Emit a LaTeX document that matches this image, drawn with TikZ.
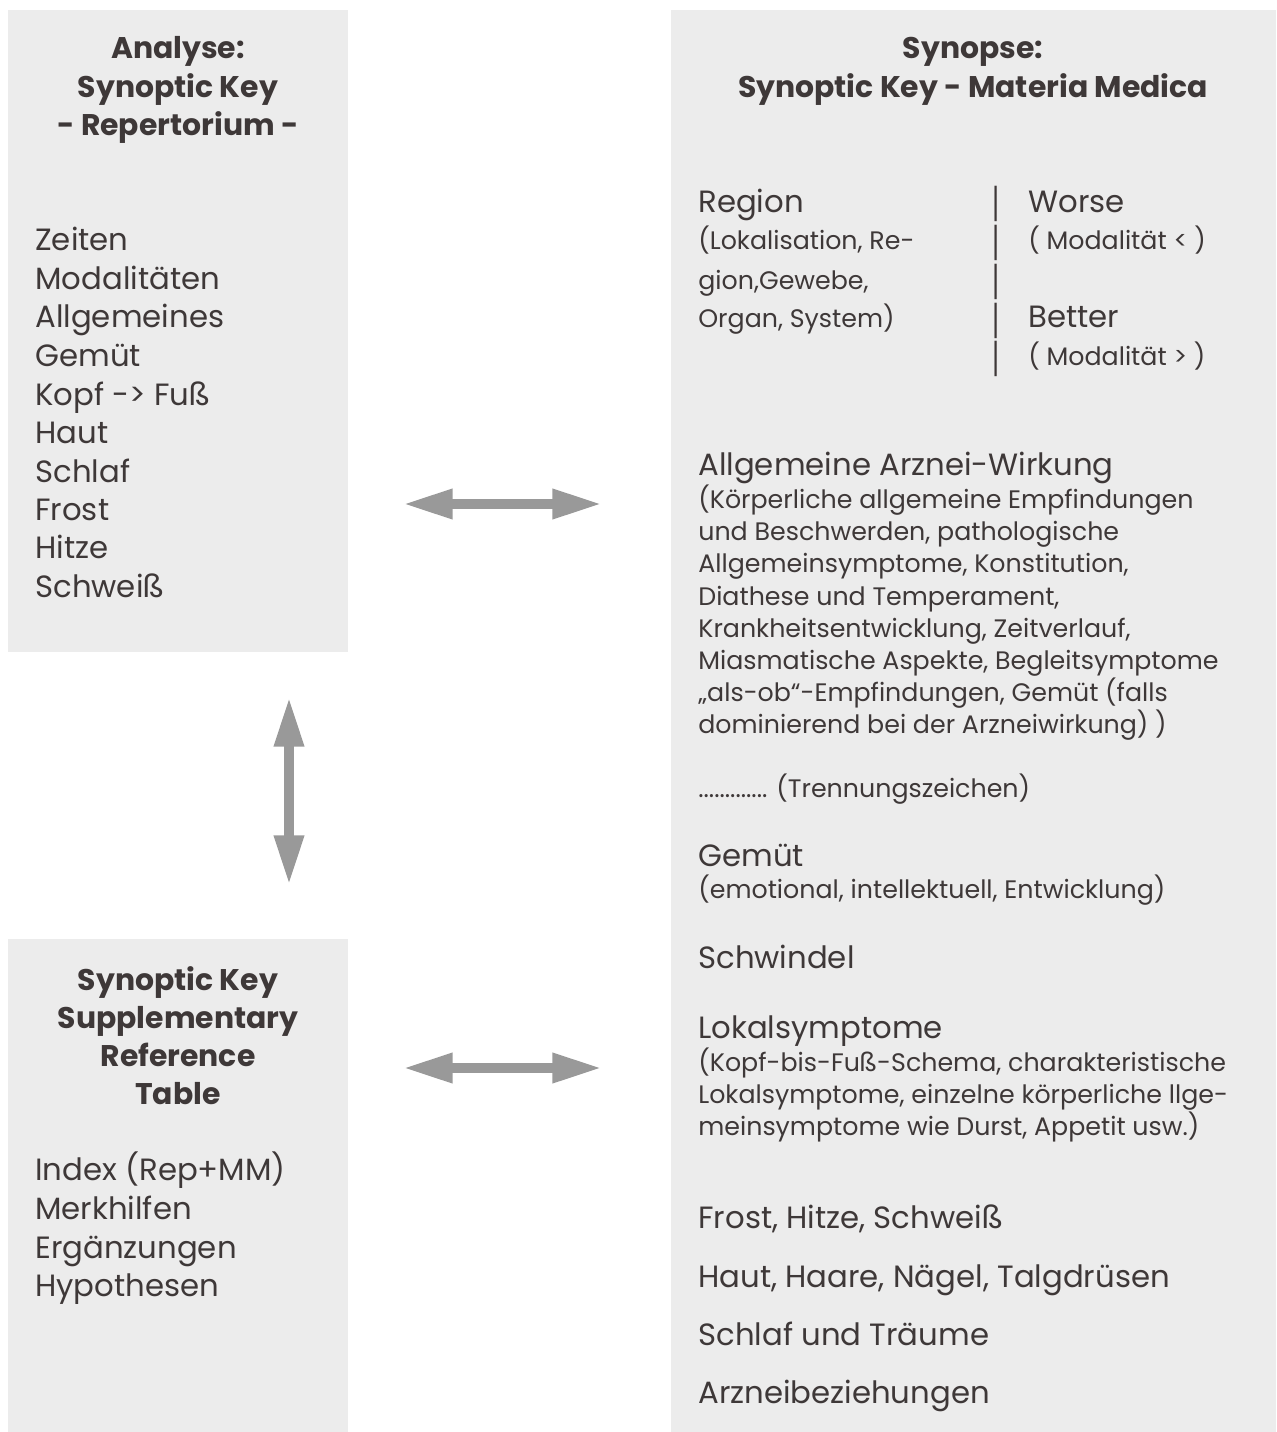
\documentclass[tikz,border=0pt]{standalone}
\usepackage{fontspec}
\setmainfont{Poppins}
\usepackage{tikz}
\usetikzlibrary{arrows.meta}

\definecolor{boxgray}{HTML}{ECECEC}
\definecolor{arrowgray}{HTML}{999999}
\definecolor{textbrown}{HTML}{3E3838}

\begin{document}
\begin{tikzpicture}[x=0.02cm,y=-0.02cm]
			\tikzstyle{every node}+=[inner sep=0pt, text=textbrown]
			\tikzstyle{big}=[anchor=base west, font=\fontsize{17.5}{20}\selectfont]
			\tikzstyle{small}=[anchor=base west, font=\fontsize{14.4}{17}\selectfont]
			\tikzstyle{head}=[anchor=base, font=\fontsize{17}{20}\selectfont\bfseries]
			\tikzstyle{bar}=[font=\fontsize{14}{16}\selectfont]
			\tikzstyle{fatarrow}=[draw=arrowgray, line width=5.67pt, {Triangle[length=28.3pt, width=15.9pt]}-{Triangle[length=28.3pt, width=15.9pt]}]
			\useasboundingbox (0,0) rectangle (1276,1432);
			% boxes
			\fill [boxgray] (8,10) rectangle (348,652);
			\fill [boxgray] (8,939) rectangle (348,1432);
			\fill [boxgray] (671,10) rectangle (1276,1432);
			% Analyse box
			\draw (178,59) node [head] (ana1) {Analyse:};
			\draw (178,98) node [head] (ana2) {Synoptic Key};
			\draw (178,136) node [head] (ana3) {- Repertorium -};
			\draw (35,251) node [big] (zeiten) {Zeiten};
			\draw (35,290) node [big] (modal) {Modalitäten};
			\draw (35,328) node [big] (allg) {Allgemeines};
			\draw (35,367) node [big] (gemuet) {Gemüt};
			\draw (35,405) node [big] (kopf) {Kopf -> Fuß};
			\draw (35,443) node [big] (haut) {Haut};
			\draw (35,482) node [big] (schlaf) {Schlaf};
			\draw (35,520) node [big] (frost) {Frost};
			\draw (35,558) node [big] (hitze) {Hitze};
			\draw (35,597) node [big] (schweiss) {Schweiß};
			% Supplementary box
			\draw (178,990) node [head] (sup1) {Synoptic Key};
			\draw (178,1028) node [head] (sup2) {Supplementary};
			\draw (178,1066) node [head] (sup3) {Reference};
			\draw (178,1104) node [head] (sup4) {Table};
			\draw (35,1180) node [big] (index) {Index (Rep+MM)};
			\draw (35,1219) node [big] (merk) {Merkhilfen};
			\draw (35,1258) node [big] (ergaenz) {Ergänzungen};
			\draw (35,1296) node [big] (hypo) {Hypothesen};
			% Synopse box
			\draw (973,59) node [head] (syn1) {Synopse:};
			\draw (973,98) node [head] (syn2) {Synoptic Key - Materia Medica};
			\draw (698,213) node [big] (region) {Region};
			\draw (698,249.5) node [small] (reg1) {(Lokalisation, Re-};
			\draw (698,289.5) node [small] (reg2) {gion,Gewebe,};
			\draw (698,327.5) node [small] (reg3) {Organ, System)};
			\draw (996,204) node [bar] (bar1) {\scalebox{1}[1.6]{|}};
			\draw (996,243) node [bar] (bar2) {\scalebox{1}[1.6]{|}};
			\draw (996,282) node [bar] (bar3) {\scalebox{1}[1.6]{|}};
			\draw (996,321) node [bar] (bar4) {\scalebox{1}[1.6]{|}};
			\draw (996,359) node [bar] (bar5) {\scalebox{1}[1.6]{|}};
			\draw (1028,213) node [big] (worse) {Worse};
			\draw (1028,249.5) node [small] (worse1) {( Modalität < )};
			\draw (1028,328) node [big] (better) {Better};
			\draw (1028,365.5) node [small] (better1) {( Modalität > )};
			\draw (698,475) node [big] (arznei) {Allgemeine Arznei-Wirkung};
			\draw (698,508.5) node [small] (arz1) {(Körperliche allgemeine Empfindungen};
			\draw (698,540.7) node [small] (arz2) {und Beschwerden, pathologische};
			\draw (698,572.9) node [small] (arz3) {Allgemeinsymptome, Konstitution,};
			\draw (698,605.1) node [small] (arz4) {Diathese und Temperament,};
			\draw (698,637.3) node [small] (arz5) {Krankheitsentwicklung, Zeitverlauf,};
			\draw (698,669.5) node [small] (arz6) {Miasmatische Aspekte, Begleitsymptome};
			\draw (698,701.7) node [small] (arz7) {„als-ob“-Empfindungen, Gemüt (falls};
			\draw (698,733.9) node [small] (arz8) {dominierend bei der Arzneiwirkung) )};
			\draw (698,797.5) node [small] (trenn) {............. (Trennungszeichen)};
			\draw (698,866) node [big] (gemuet2) {Gemüt};
			\draw (698,898.5) node [small] (gem1) {(emotional, intellektuell, Entwicklung)};
			\draw (698,968) node [big] (schwindel) {Schwindel};
			\draw (698,1038) node [big] (lokal) {Lokalsymptome};
			\draw (698,1071.5) node [small] (lok1) {(Kopf-bis-Fuß-Schema, charakteristische};
			\draw (698,1103.5) node [small] (lok2) {Lokalsymptome, einzelne körperliche llge-};
			\draw (698,1135.5) node [small] (lok3) {meinsymptome wie Durst, Appetit usw.)};
			\draw (698,1228) node [big] (fhs) {Frost, Hitze, Schweiß};
			\draw (698,1287) node [big] (haare) {Haut, Haare, Nägel, Talgdrüsen};
			\draw (698,1345) node [big] (traeume) {Schlaf und Träume};
			\draw (698,1403) node [big] (bezieh) {Arzneibeziehungen};
			% arrows
			\coordinate (topL) at (403,504);
			\coordinate (topR) at (602,504);
			\coordinate (midT) at (289,697);
			\coordinate (midB) at (289,885);
			\coordinate (lowL) at (403,1068);
			\coordinate (lowR) at (602,1068);
			\draw [fatarrow] (topL) -- (topR);
			\draw [fatarrow] (midT) -- (midB);
			\draw [fatarrow] (lowL) -- (lowR);
\end{tikzpicture}
\end{document}
